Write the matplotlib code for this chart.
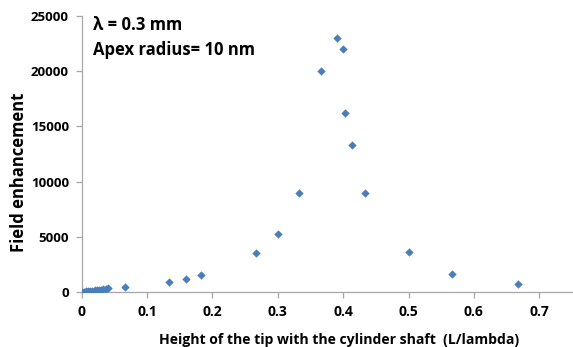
import matplotlib
matplotlib.use("Agg")
import matplotlib.pyplot as plt

x_ratio = [0.0, 0.0033, 0.0067, 0.01, 0.0133, 0.0167, 0.02, 0.0233, 0.0267,
           0.03, 0.0333, 0.0367, 0.04, 0.0667, 0.1333, 0.16, 0.1833, 0.2667,
           0.3, 0.3333, 0.3667, 0.39, 0.4, 0.4033, 0.4133, 0.4333, 0.5,
           0.5667, 0.6667]
enhancement = [20, 40, 60, 80, 100, 120, 145, 170, 195, 220, 250, 280, 330,
               440, 930, 1175, 1570, 3560, 5210, 8930, 20000, 23000, 22000,
               16200, 13300, 8930, 3620, 1660, 720]

xticks = [0, 0.1, 0.2, 0.3, 0.4, 0.5, 0.6, 0.7]
xticklabels = ["0", "0.1", "0.2", "0.3", "0.4", "0.5", "0.6", "0.7"]
yticks = [0, 5000, 10000, 15000, 20000, 25000]
yticklabels = ["0", "5000", "10000", "15000", "20000", "25000"]

plt.rcParams['font.family'] = ['Open Sans', 'DejaVu Sans']

W, H = 573, 347
fig = plt.figure(figsize=(W/100, H/100), dpi=100)
x0, x1, y0, y1 = 81.5, 572, 292, 16
ax = fig.add_axes([x0/W, 1-y0/H, (x1-x0)/W, (y0-y1)/H])
ax.scatter(x_ratio, enhancement, marker='D', s=18, color='#4A7EBB', zorder=3,
           linewidths=0)
ax.set_xlim(0, 0.75)
ax.set_ylim(0, 25000)
ax.set_xticks(xticks)
ax.set_xticklabels(xticklabels, fontsize=10, fontweight='bold')
ax.set_yticks(yticks)
ax.set_yticklabels(yticklabels, fontsize=9.5, fontweight='bold')
for s in ['top', 'right']:
    ax.spines[s].set_visible(False)
for s in ['left', 'bottom']:
    ax.spines[s].set_color('#A6A6A6')
    ax.spines[s].set_linewidth(0.9)
ax.tick_params(axis='both', color='#A6A6A6', length=4, width=0.9, pad=5)
ax.set_xlabel("Height of the tip with the cylinder shaft  (L/lambda)",
              fontsize=10.1, fontweight='bold')
ax.xaxis.set_label_coords((339 - x0)/(x1 - x0), -(340 - y0)/(y0 - y1))
ax.xaxis.label.set_va('center')
ax.set_ylabel("Field enhancement", fontsize=12, fontweight='bold')
ax.yaxis.set_label_coords(-(x0 - 19)/(x1 - x0), (y0 - 172)/(y0 - y1))
ax.yaxis.label.set_va('center')
ax.text(93/W, 1-25/H, "λ = 0.3 mm", transform=fig.transFigure,
        fontsize=12, fontweight='bold', va='center', ha='left')
ax.text(93/W, 1-50/H, "Apex radius= 10 nm", transform=fig.transFigure,
        fontsize=12, fontweight='bold', va='center', ha='left')
fig.savefig("out.png", dpi=100)
